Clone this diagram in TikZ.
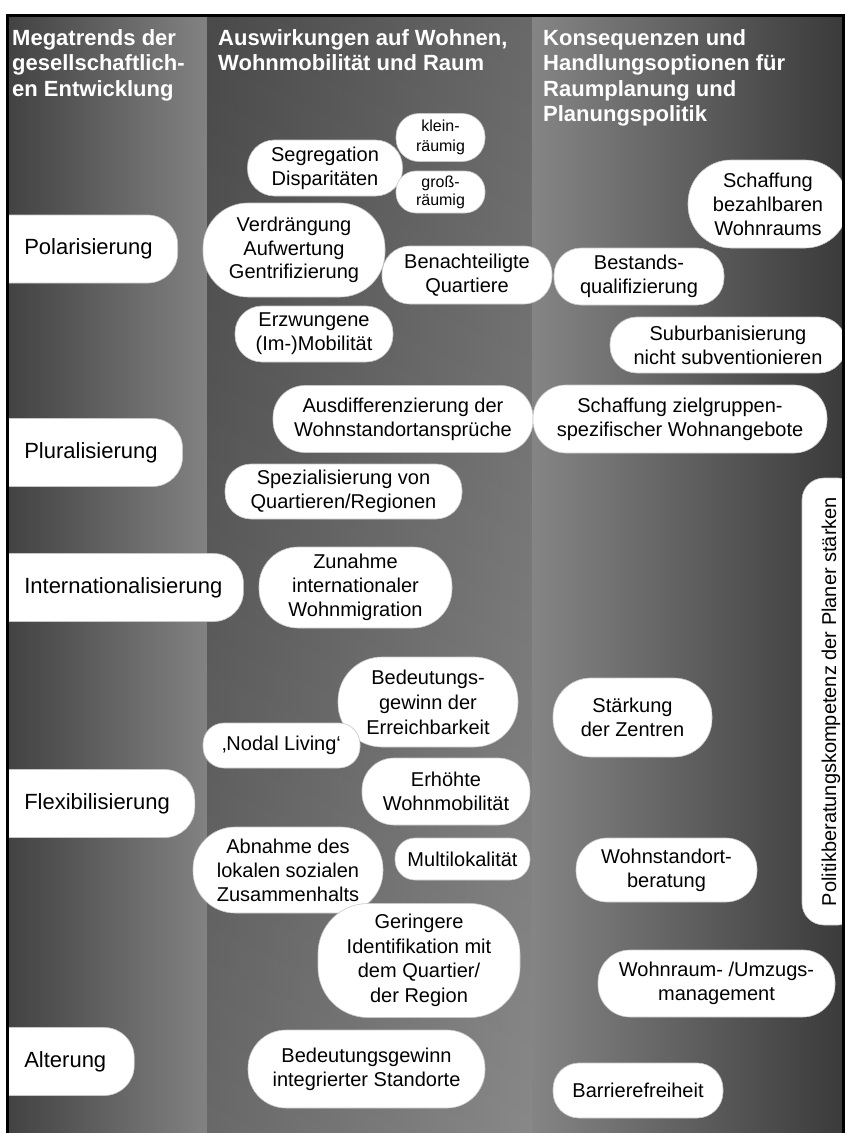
\documentclass[tikz,border=0pt]{standalone}
\usepackage{fontspec}
\setmainfont{Liberation Sans}
\definecolor{cAl}{gray}{0.26}
\definecolor{cAr}{gray}{0.51}
\definecolor{cBl}{gray}{0.33}
\definecolor{cBr}{gray}{0.47}
\definecolor{cCl}{gray}{0.52}
\definecolor{cCr}{gray}{0.23}
\begin{document}
\begin{tikzpicture}[x=1pt,y=-1pt,
  bx/.style={fill=white, draw=black!22, line width=0.6pt, inner sep=0pt, align=center,
    font=\fontsize{20}{24}\selectfont},
  bxs/.style n args={3}{bx, minimum width=#1, minimum height=#2, rounded corners=#3},
  smallbx/.style n args={3}{bxs={#1}{#2}{#3}, font=\fontsize{16}{20}\selectfont},
  trend/.style={fill=white, draw=black!22, line width=0.6pt, inner sep=0pt,
    font=\fontsize{22}{26}\selectfont, rounded corners=30pt, minimum height=68pt, anchor=west},
  hdr/.style={text=white, font=\bfseries\fontsize{22}{25.5}\selectfont, align=left,
    inner sep=0pt, anchor=north west}
]
\useasboundingbox (0,0) rectangle (845,1133);
\begin{scope}
\clip (9,17) rectangle (842,1133);
% column backgrounds
\shade[left color=cAl, right color=cAr] (8,16) rectangle (207,1133);
\shade[left color=cBl, right color=cBr] (207,16) rectangle (532,1133);
\shade[top color=black, bottom color=white, opacity=0.12] (207,16) rectangle (532,1133);
\shade[left color=cCl, right color=cCr] (532,16) rectangle (843,1133);

% headers
\node[hdr] (h1) at (12,29) {Megatrends der\\gesellschaftlich-\\en Entwicklung};
\node[hdr] (h2) at (218,29) {Auswirkungen auf Wohnen,\\Wohnmobilität und Raum};
\node[hdr] (h3) at (543,29) {Konsequenzen und\\Handlungsoptionen für\\Raumplanung und\\Planungspolitik};

% megatrends (left column)
\node[trend] (polar) at (-26,249) {\hspace*{50pt}Polarisierung\hspace*{25pt}};
\node[trend] (plural) at (-26,452.5) {\hspace*{50pt}Pluralisierung\hspace*{25pt}};
\node[trend] (intern) at (-26,587.5) {\hspace*{50pt}Internationalisierung\hspace*{21pt}};
\node[trend] (flex) at (-26,803.5) {\hspace*{50pt}Flexibilisierung\hspace*{25pt}};
\node[trend] (alter) at (-26,1061.5) {\hspace*{50pt}Alterung\hspace*{28pt}};

% middle column
\node[bxs={155pt}{56pt}{27pt}] (seg) at (325,168) {Segregation\\Disparitäten};
\node[smallbx={89pt}{48pt}{23pt}] (klein) at (440.5,137.5) {klein-\\räumig};
\node[smallbx={89pt}{42pt}{20pt}, font=\fontsize{16}{18}\selectfont] (gross) at (440.5,192) {groß-\\räumig};
\node[bxs={182pt}{94pt}{45pt}, font=\fontsize{20}{23.5}\selectfont] (verd) at (294,250) {Verdrängung\\Aufwertung\\Gentrifizierung};
\node[bxs={170pt}{58pt}{28pt}] (benach) at (467,275) {Benachteiligte\\Quartiere};
\node[bxs={158pt}{56pt}{27pt}] (erzw) at (314,334) {Erzwungene\\(Im-)Mobilität};
\node[bxs={260pt}{67pt}{32pt}] (ausd) at (403,419) {Ausdifferenzierung der\\Wohnstandortansprüche};
\node[bxs={237pt}{55pt}{26pt}] (spez) at (343.5,491.5) {Spezialisierung von\\Quartieren/Regionen};
\node[bxs={193pt}{81pt}{39pt}] (zun) at (355.5,587.5) {Zunahme\\internationaler\\Wohnmigration};
\node[bxs={180pt}{90pt}{44pt}, font=\fontsize{20}{25}\selectfont] (bedE) at (428,702) {Bedeutungs-\\gewinn der\\Erreichbarkeit};
\node[bxs={157pt}{45pt}{21pt}] (nodal) at (281.5,745.5) {‚Nodal Living‘};
\node[bxs={168pt}{67pt}{32pt}] (erh) at (446,791.5) {Erhöhte\\Wohnmobilität};
\node[bxs={190pt}{86pt}{42pt}] (abn) at (288,870) {Abnahme des\\lokalen sozialen\\Zusammenhalts};
\node[bxs={135pt}{42pt}{20pt}] (multi) at (462.5,859) {Multilokalität};
\node[bxs={202pt}{114pt}{50pt}, font=\fontsize{20}{24.5}\selectfont] (ger) at (419,960.5) {Geringere\\Identifikation mit\\dem Quartier/\\der Region};
\node[bxs={237pt}{78pt}{38pt}] (bedI) at (366.5,1069) {Bedeutungsgewinn\\integrierter Standorte};

% right column
\node[bxs={160pt}{88pt}{43pt}] (schB) at (768,204) {Schaffung\\bezahlbaren\\Wohnraums};
\node[bxs={170pt}{57pt}{27pt}] (best) at (639,276.5) {Bestands-\\qualifizierung};
\node[bxs={236pt}{56pt}{27pt}] (sub) at (728,345) {Suburbanisierung\\nicht subventionieren};
\node[bxs={294pt}{68pt}{33pt}] (schZ) at (680,419) {Schaffung zielgruppen-\\spezifischer Wohnangebote};
\node[bxs={447pt}{58pt}{22pt}, rotate=90] (pol) at (831,701.5) {Politikberatungskompetenz der Planer stärken};
\node[bxs={159pt}{79pt}{38pt}] (staerk) at (632.5,717.5) {Stärkung\\der Zentren};
\node[bxs={181pt}{64pt}{31pt}] (wstb) at (666.5,870) {Wohnstandort-\\beratung};
\node[bxs={237pt}{67pt}{32pt}] (umz) at (716.5,983.5) {Wohnraum- /Umzugs-\\management};
\node[bxs={170pt}{55pt}{26pt}] (barr) at (638,1090.5) {Barrierefreiheit};
\end{scope}
% frame
\draw[line width=3pt] (7.5,15.5) rectangle (843.5,1140);
\end{tikzpicture}
\end{document}
